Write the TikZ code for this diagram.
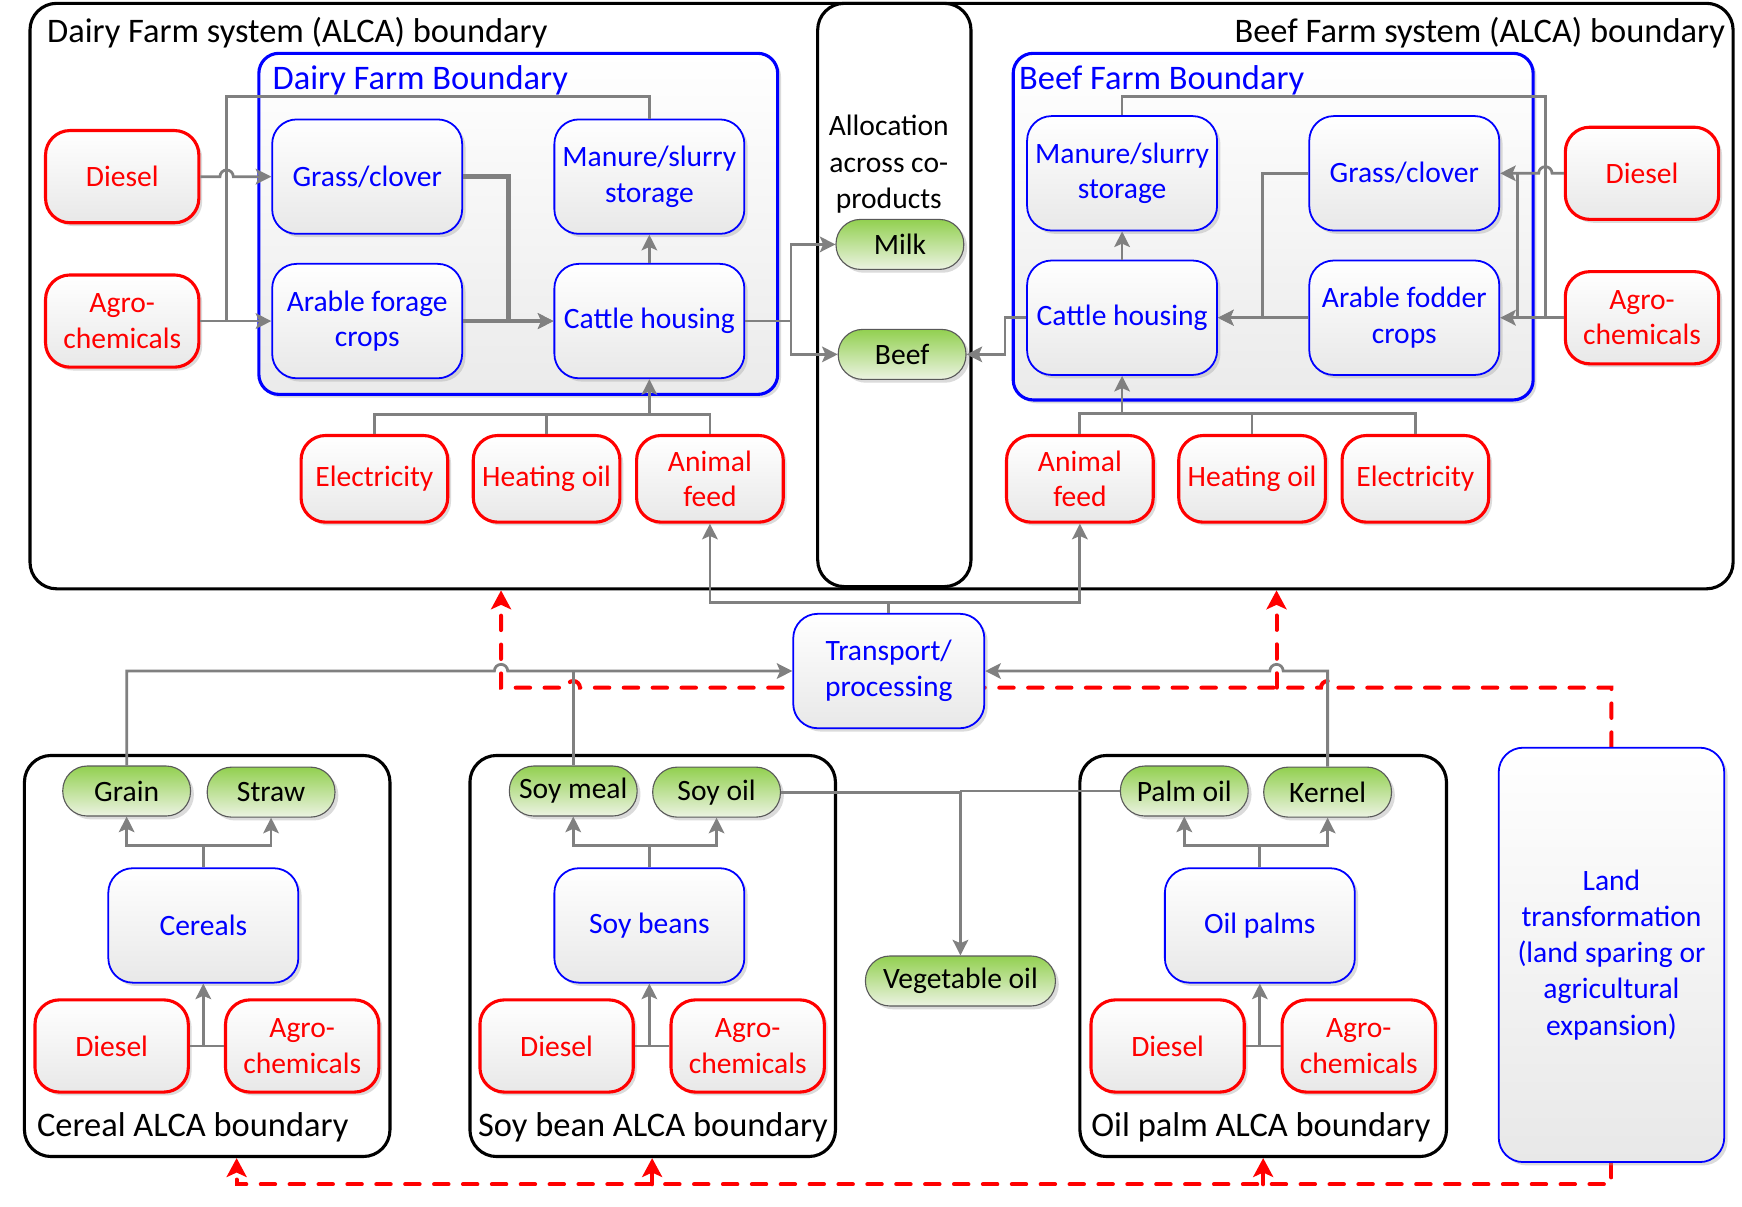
\documentclass[tikz,border=0pt]{standalone}
\usepackage{fontspec}
\setmainfont{Carlito}
\usetikzlibrary{arrows.meta,shadows,calc}
\definecolor{cRed}{RGB}{255,0,0}
\definecolor{cBlue}{RGB}{0,0,255}
\definecolor{cGray}{RGB}{128,128,128}
\definecolor{gTop}{RGB}{146,208,80}
\definecolor{gBot}{RGB}{236,243,226}
\pgfdeclarelayer{bg}
\pgfsetlayers{bg,main}
\tikzset{
  bfont/.style={font=\fontsize{13.3}{16}\selectfont},
  tfont/.style={font=\fontsize{15.5}{18}\selectfont},
  softshadow/.style={drop shadow={shadow xshift=1.5pt,shadow yshift=-1.5pt,fill=black!35,opacity=0.4}},
  pbox/.style={rounded corners=11pt, top color=white, bottom color=black!9, softshadow, align=center, inner sep=1pt, bfont},
  redbox/.style={pbox, draw=cRed, line width=1.4pt, text=cRed, minimum width=69pt, minimum height=41.5pt},
  smallred/.style={redbox, minimum width=66pt, minimum height=39pt},
  bluebox/.style={pbox, draw=cBlue, line width=0.8pt, text=cBlue, minimum width=85.5pt, minimum height=51.5pt},
  pill/.style={rounded corners=11pt, draw=black!65, line width=0.5pt, top color=gTop, bottom color=gBot, softshadow, minimum width=57.5pt, minimum height=22.5pt, inner sep=1pt, bfont},
  farm/.style={rounded corners=9pt, draw=cBlue, line width=1.4pt, top color=white, bottom color=black!8, softshadow},
  sysbox/.style={rounded corners=12pt, draw=black, line width=1.4pt, fill=white},
  gline/.style={draw=cGray, line width=1.25pt},
  conn/.style={gline, -{Stealth[length=7pt,width=7pt,inset=1.5pt]}},
  tconn/.style={conn, line width=2pt},
  reddash/.style={draw=cRed, line width=1.8pt, line cap=round, dash pattern=on 6.5pt off 6.5pt, -{Stealth[length=8.5pt,width=9pt,inset=2pt]}},
}
\begin{document}
\begin{tikzpicture}[x=0.5pt,y=-0.5pt]
\useasboundingbox (0,0) rectangle (1568,1086);
% ---------- system boundaries ----------
\node[sysbox, minimum width=766.5pt, minimum height=263.5pt] (sys) at (793.5,266.5) {};
\node[sysbox, minimum width=69pt, minimum height=262.5pt] (alloc) at (805,265.5) {};
\node[tfont, anchor=west, inner sep=0] (tDairy) at (42,29) {Dairy Farm system (ALCA) boundary};
\node[tfont, anchor=east, inner sep=0] (tBeef) at (1553,29) {Beef Farm system (ALCA) boundary};
\node[align=center, inner sep=0, font=\fontsize{13.3}{16.5}\selectfont] (allocT) at (800,148) {Allocation\\across co-\\products};

% ---------- farm boundaries ----------
\node[farm, minimum width=233.5pt, minimum height=153.5pt] (dFarm) at (466.5,201.5) {};
\node[tfont, text=cBlue, anchor=west, inner sep=0] (dFarmT) at (245,72) {Dairy Farm Boundary};
\node[farm, minimum width=234pt, minimum height=156pt] (bFarm) at (1146,204) {};
\node[tfont, text=cBlue, anchor=west, inner sep=0] (bFarmT) at (917,72) {Beef Farm Boundary};

% ---------- dairy nodes ----------
\node[redbox] (dDiesel) at (110,159) {Diesel};
\node[redbox] (dAgro) at (110,289) {Agro-\\chemicals};
\node[bluebox] (dGrass) at (330.5,159) {Grass/clover};
\node[bluebox] (dArable) at (330.5,289) {Arable forage\\crops};
\node[bluebox] (dManure) at (584.5,159) {Manure/slurry\\storage};
\node[bluebox] (dCattle) at (584.5,289) {Cattle housing};
\node[smallred] (dElec) at (337,431) {Electricity};
\node[smallred] (dHeat) at (492,431) {Heating oil};
\node[smallred] (dFeed) at (639,431) {Animal\\feed};

\node[pill] (milk) at (810,220) {Milk};
\node[pill] (beef) at (812,319) {Beef};

% ---------- beef nodes ----------
\node[bluebox] (bManure) at (1010,156) {Manure/slurry\\storage};
\node[bluebox] (bGrass) at (1264,156) {Grass/clover};
\node[bluebox] (bCattle) at (1010,286) {Cattle housing};
\node[bluebox] (bArable) at (1264,286) {Arable fodder\\crops};
\node[redbox] (bDiesel) at (1478,156) {Diesel};
\node[redbox] (bAgro) at (1478,286) {Agro-\\chemicals};
\node[smallred] (bFeed) at (972,431) {Animal\\feed};
\node[smallred] (bHeat) at (1127,431) {Heating oil};
\node[smallred] (bElec) at (1274,431) {Electricity};

\node[bluebox, minimum width=86pt] (transport) at (800,604) {Transport/\\processing};

% ---------- cereal ----------
\node[sysbox, minimum width=164.5pt, minimum height=180.5pt] (cerealB) at (186.5,860.5) {};
\node[tfont, anchor=west, inner sep=0] (cerealT) at (33,1015) {Cereal ALCA boundary};
\node[pill] (grain) at (114,712) {Grain};
\node[pill] (straw) at (244,713) {Straw};
\node[bluebox] (cereals) at (183,833) {Cereals};
\node[redbox] (cDiesel) at (100.5,941.5) {Diesel};
\node[redbox] (cAgro) at (272,941.5) {Agro-\\chemicals};

% ---------- soy ----------
\node[sysbox, minimum width=164.5pt, minimum height=180.5pt] (soyB) at (587.5,860.5) {};
\node[tfont, anchor=west, inner sep=0] (soyT) at (430,1015) {Soy bean ALCA boundary};
\node[pill] (soymeal) at (516,712) {Soy meal};
\node[pill] (soyoil) at (645,713) {Soy oil};
\node[bluebox] (soybeans) at (584.5,833) {Soy beans};
\node[redbox] (sDiesel) at (501,941.5) {Diesel};
\node[redbox] (sAgro) at (673,941.5) {Agro-\\chemicals};

% ---------- oil palm ----------
\node[sysbox, minimum width=165pt, minimum height=180.5pt] (palmB) at (1137,860.5) {};
\node[tfont, anchor=west, inner sep=0] (palmT) at (982,1015) {Oil palm ALCA boundary};
\node[pill] (palmoil) at (1066,712) {Palm oil};
\node[pill] (kernel) at (1195,713) {Kernel};
\node[bluebox] (oilpalms) at (1134,833) {Oil palms};
\node[redbox] (pDiesel) at (1051,941.5) {Diesel};
\node[redbox] (pAgro) at (1223,941.5) {Agro-\\chemicals};

\node[pill, minimum width=85.5pt] (veg) at (864.5,883) {Vegetable oil};
\node[bluebox, minimum width=101.5pt, minimum height=186.5pt, font=\fontsize{13.3}{16.3}\selectfont] (landT) at (1450.5,859.5) {Land\\transformation\\(land sparing or\\agricultural\\expansion)};

% ---------- coordinates ----------
\coordinate (dRetX) at (204,87);
\coordinate (bRetX) at (1391,87);
\coordinate (bJx) at (1366,0);
\coordinate (dsplit) at (712,289);
\coordinate (dj) at (584.5,373);
\coordinate (bj) at (1010,372);
\coordinate (tj) at (800,542);
\coordinate (rX1) at (451,619);
\coordinate (rX2) at (1149,619);
\coordinate (rB1) at (213,1066);
\coordinate (rB2) at (587,1066);
\coordinate (rB3) at (1137,1066);

% ---------- dairy connectors ----------
\draw[gline] (dManure.north) |- (dRetX) -- (dRetX |- dAgro.east);
\draw[conn] (dDiesel.east) -- ($(dDiesel.east -| dRetX)+(-3pt,0)$) arc[start angle=180,end angle=0,radius=3pt] -- (dGrass.west);
\draw[conn] (dAgro.east) -- (dArable.west);
\draw[tconn] (dGrass.east) -- ++(41,0) |- (dCattle.west);
\draw[tconn] (dArable.east) -- (dCattle.west);
\draw[conn] (dCattle.north) -- (dManure.south);
\draw[gline] (dElec.north) |- (dj) -| (dFeed.north);
\draw[gline] (dHeat.north) -- (dHeat.north |- dj);
\draw[conn] (dj) -- (dCattle.south);
\draw[gline] (dCattle.east) -- (dsplit);
\draw[conn] (dsplit) |- (milk.west);
\draw[conn] (dsplit) |- (beef.west);

% ---------- beef connectors ----------
\draw[conn] (bCattle.west) -- ++(-19,0) |- (beef.east);
\draw[conn] (bCattle.north) -- (bManure.south);
\draw[gline] (bManure.north) |- (bRetX) -- (bRetX |- bAgro.west);
\draw[conn] (bGrass.west) -- ++(-41,0) |- (bCattle.east);
\draw[conn] (bArable.west) -- (bCattle.east);
\draw[conn] (bDiesel.west) -- ($(bDiesel.west -| bRetX)+(3pt,0)$) arc[start angle=0,end angle=180,radius=3pt] -- (bGrass.east);
\draw[conn] (bAgro.west) -- (bArable.east);
\draw[gline] (bDiesel.west -| bJx) -- (bAgro.west -| bJx);
\draw[gline] (bFeed.north) |- (bj) -| (bElec.north);
\draw[gline] (bHeat.north) -- (bHeat.north |- bj);
\draw[conn] (bj) -- (bCattle.south);

% ---------- transport ----------
\draw[gline] (transport.north) -- (tj);
\draw[conn] (tj) -| (dFeed.south);
\draw[conn] (tj) -| (bFeed.south);
\draw[conn] (grain.north) |- ($(rX1 |- transport.west)+(-3pt,0)$) arc[start angle=180,end angle=0,radius=3pt] -- (transport.west);
\draw[gline] (soymeal.north) -- (soymeal.north |- transport.west);
\draw[conn] (kernel.north) |- ($(rX2 |- transport.east)+(3pt,0)$) arc[start angle=0,end angle=180,radius=3pt] -- (transport.east);
\draw[conn] (soyoil.east) -| (veg.north);
\draw[gline] (palmoil.west) -- (palmoil.west -| veg.north);

% ---------- crop subsystems ----------
\draw[gline] (cereals.north) -- ++(0,-20) coordinate (cj);
\draw[conn] (cj) -| (grain.south);
\draw[conn] (cj) -| (straw.south);
\draw[gline] (cDiesel.east) -- (cAgro.west);
\draw[conn] (cDiesel.east -| cereals.south) -- (cereals.south);

\draw[gline] (soybeans.north) -- ++(0,-20) coordinate (sj);
\draw[conn] (sj) -| (soymeal.south);
\draw[conn] (sj) -| (soyoil.south);
\draw[gline] (sDiesel.east) -- (sAgro.west);
\draw[conn] (sDiesel.east -| soybeans.south) -- (soybeans.south);

\draw[gline] (oilpalms.north) -- ++(0,-20) coordinate (pj);
\draw[conn] (pj) -| (palmoil.south);
\draw[conn] (pj) -| (kernel.south);
\draw[gline] (pDiesel.east) -- (pAgro.west);
\draw[conn] (pDiesel.east -| oilpalms.south) -- (oilpalms.south);

% ---------- land transformation (red dashed) ----------
\begin{pgfonlayer}{bg}
\draw[reddash] (landT.north) |- ($(kernel.north |- rX1)+(3pt,0)$) arc[start angle=0,end angle=180,radius=3pt] -- ($(soymeal.north |- rX1)+(3pt,0)$) arc[start angle=0,end angle=180,radius=3pt] -- (rX1) -- (rX1 |- sys.south);
\draw[reddash] (rX2) -- (rX2 |- sys.south);
\draw[reddash] (landT.south) |- (rB1) -- (rB1 |- cerealB.south);
\draw[reddash] (rB2) -- (rB2 |- soyB.south);
\draw[reddash] (rB3) -- (rB3 |- palmB.south);
\end{pgfonlayer}
\end{tikzpicture}
\end{document}
